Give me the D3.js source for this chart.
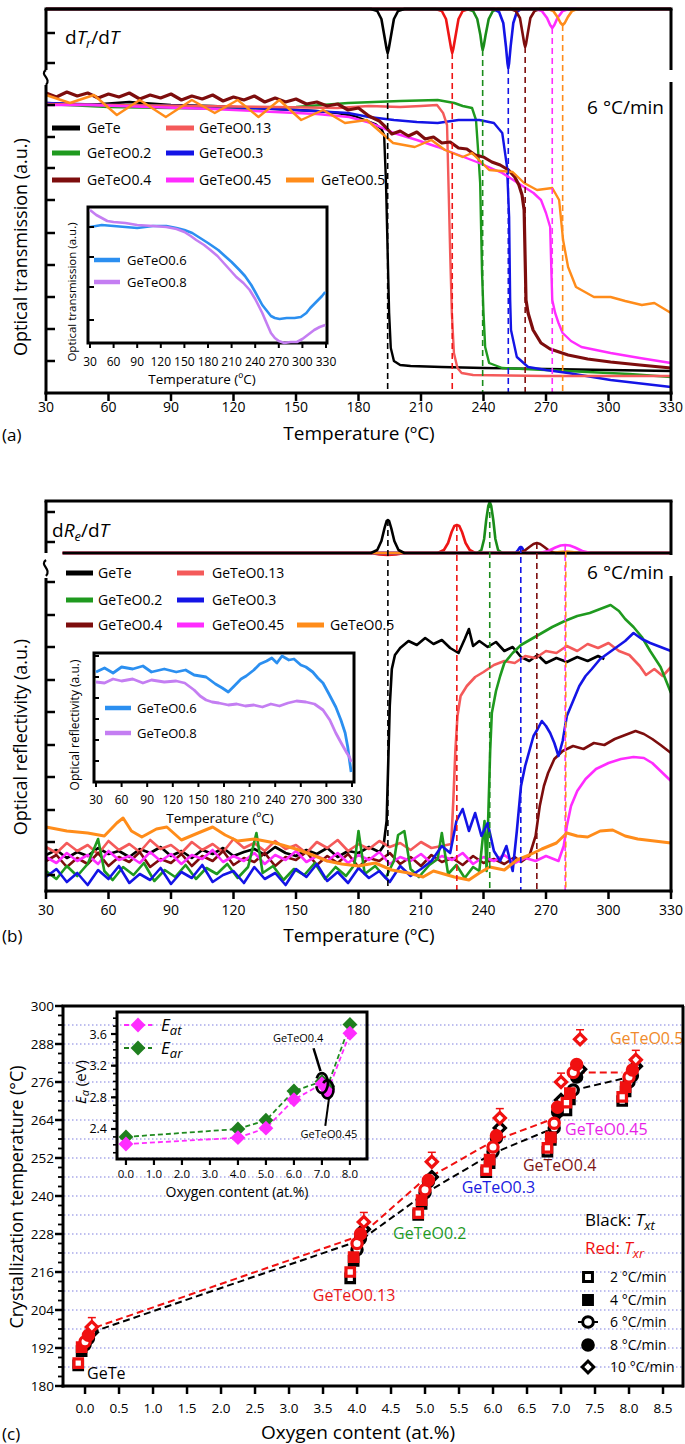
<!DOCTYPE html>
<html><head><meta charset="utf-8">
<script src="https://cdn.jsdelivr.net/npm/d3@7/dist/d3.min.js"></script>
<style>
body{margin:0;background:#fff;}
svg text{font-family:"Open Sans","Liberation Sans",Arial,sans-serif;fill:#000;}
</style></head><body>
<svg id="fig" width="685" height="1444" xmlns="http://www.w3.org/2000/svg"></svg>
<script>
// ================= DATA =================
const samples = ["GeTe","GeTeO0.13","GeTeO0.2","GeTeO0.3","GeTeO0.4","GeTeO0.45","GeTeO0.5"];
const insetSamples = ["GeTeO0.6","GeTeO0.8"];
const tempTicks = [30,60,90,120,150,180,210,240,270,300,330];

// ---- Panel (a): optical transmission (a.u.) vs T, 6 °C/min ----
const transGeTe = [[30,290],[50,288],[70,291],[90,288],[110,287],[130,285],[150,283],[160,282],[170,280],[178,277],[183,273],[188,269],[191,264],[192.3,258],[193.2,210],[194,140],[194.7,80],[195.5,45],[197,32],[200,28],[205,27],[220,26],[240,25],[270,24],[300,23],[330,22]];
const transO013 = [[30,289],[60,288],[100,287],[140,286],[170,285],[185,287],[200,286],[210,287],[217.7,288],[220.6,280],[222.5,268],[223.3,200],[224,140],[224.8,80],[225.8,40],[227.5,25],[229.5,20],[235,18],[270,17],[330,17]];
const transO02 = [[30,289],[60,286],[90,285],[120,284],[150,286],[175,290],[200,292],[218,293],[226,290],[230,287],[234.5,285],[236.4,273],[237.4,243],[238.4,210],[239.3,120],[240,80],[240.8,46],[242.7,30],[249,25],[270,23],[290,21],[310,19],[330,16]];
const transO03 = [[30,290],[60,288],[100,287],[130,285],[150,283],[175,280],[185,276],[197,273],[208,271],[218,270],[228,273],[238,273],[245,270],[249,260],[251.3,226],[252.3,176],[252.8,93],[253.2,63],[256,36],[261.4,26],[270,23],[280.6,20],[301,13],[330,6]];
const transO04 = [[30,300],[35,296],[40,301],[45,297],[50,300],[55,295],[60,299],[65,296],[70,300],[75,294],[80,298],[85,295],[90,299],[95,293],[100,297],[105,294],[110,298],[115,292],[120,296],[125,293],[130,297],[135,291],[140,295],[145,291],[150,294],[155,289],[160,291],[165,287],[170,289],[175,283],[180,285],[185,277],[190,272],[193,266],[196,259],[200,262],[204,257],[208,261],[212,254],[216,256],[220,250],[224,251],[228,245],[232,244],[236,238],[240,236],[244,231],[248,228],[252,223],[255,216],[257,208],[258.5,198],[259.5,183],[260.4,93],[261.4,80],[263.8,63],[267.6,50],[272,44],[280.6,38],[290,34],[301,31],[315,28],[330,25]];
const transO045 = [[30,288],[50,288],[80,286],[110,284],[140,281],[160,279],[175.5,276],[186,270],[197,260],[208,253],[218,246],[228,238],[238,230],[249,220],[259.5,206],[264,200],[267.6,193],[270,180],[272,166],[272.6,120],[273,93],[274.4,80],[276,70],[278,60],[282,52],[287,46],[294,43],[301,40],[315,35],[330,30]];
const transO05 = [[30,298],[41.5,290],[53,298],[64,278],[75,293],[87.5,276],[100,293],[111,280],[122,293],[132,276],[142,293],[152.5,273],[163,283],[173.5,270],[184,273],[190,262],[196.6,250],[207,246],[215,253],[221.5,243],[230,236],[234.5,240],[242.7,223],[254,221],[259.5,210],[265.7,203],[273,205],[276.3,193],[278.2,153],[280.6,126],[284.4,106],[293,96],[301,96],[308,92],[316,88],[322,90],[330,80]];
const transSeries = [transGeTe,transO013,transO02,transO03,transO04,transO045,transO05];

// dT_r/dT dips (depth, a.u.)
const dTrGeTe = [[30,0],[186,0],[189,2],[191,10],[192.5,28],[193.5,40],[194,44],[194.5,40],[195.5,28],[197,10],[199,2],[202,0],[330,0]];
const dTrO013 = [[30,0],[217,0],[220,2],[222,10],[223.5,28],[224.5,40],[225,44],[225.5,40],[226.5,28],[228,10],[230,2],[233,0],[330,0]];
const dTrO02 = [[30,0],[232,0],[235,2],[237,10],[238.5,26],[239.2,37],[239.6,41],[240.1,37],[241,26],[242.5,10],[244.5,2],[247,0],[330,0]];
const dTrO03 = [[30,0],[245,0],[247.5,3],[249.5,14],[250.8,38],[251.5,54],[251.9,59],[252.3,54],[253,38],[254.3,14],[256,3],[258,0],[330,0]];
const dTrO04 = [[30,0],[253,0],[255.5,2],[257.5,9],[258.8,25],[259.6,35],[260,38],[260.4,35],[261.2,25],[262.5,9],[264.5,2],[267,0],[330,0]];
const dTrO045 = [[30,0],[265,0],[268,2],[270.5,9],[272,16],[273,19],[274,16],[275.5,9],[278,2],[281,0],[330,0]];
const dTrO05 = [[30,0],[271,0],[273.5,2],[275.5,8],[277,14],[278,16],[279,14],[280.5,8],[282.5,2],[285,0],[330,0]];
const dTrSeries = [dTrGeTe,dTrO013,dTrO02,dTrO03,dTrO04,dTrO045,dTrO05];

// inset (a)
const transInO06 = [[30,116],[45,118],[60,117],[75,116],[90,115],[110,117],[127,117],[140,115],[150,113],[160,110],[170,105],[180,100],[193,93],[200,88],[210,81],[220,73],[227,67],[235,58],[240,51],[249,38],[255,32],[260,27],[265,25],[271,24],[280,25],[290,25],[298,26],[305,30],[310,35],[315,39],[320,43],[325,47],[329,51]];
const transInO08 = [[30,133],[38,128],[45,125],[52,122],[60,121],[75,120],[90,118],[110,117],[127,116],[140,114],[150,111],[158,107],[165,103],[175,98],[183,93],[192,87],[200,80],[208,73],[216,66],[225,60],[233,53],[240,44],[249,30],[255,19],[260,10],[265,5],[270,2],[277,0],[285,1],[293,1],[300,4],[305,7],[310,10],[315,13],[322,16],[329,18]];

// ---- Panel (b): optical reflectivity (a.u.) vs T, 6 °C/min ----
const reflGeTe = [[30,36],[35,41],[40,33],[45,39],[50,35],[55,43],[60,37],[65,40],[70,34],[75,42],[80,38],[85,44],[90,35],[95,40],[100,33],[105,41],[110,37],[115,43],[120,35],[125,39],[130,42],[135,36],[140,44],[145,38],[150,35],[155,41],[160,37],[165,43],[170,34],[175,40],[180,38],[185,44],[190,39],[192,45],[193.5,70],[194.3,130],[195,185],[196,222],[197.5,236],[200,243],[204,250],[208,246],[212,253],[216,247],[220,251],[224,243],[228,238],[231,252],[233,262],[235,245],[238,250],[242,244],[246,249],[250,240],[254,244],[258,234],[262,230],[266,236],[270,228],[275,233],[280,229],[285,234],[290,230],[295,235],[298,232]];
const reflO013 = [[30,44],[35,38],[40,48],[45,40],[50,46],[55,37],[60,50],[65,41],[70,47],[75,39],[80,51],[85,42],[90,46],[95,38],[100,49],[105,41],[110,47],[115,39],[120,52],[125,43],[130,48],[135,40],[140,50],[145,42],[150,46],[155,38],[160,49],[165,43],[170,51],[175,40],[180,47],[185,42],[190,50],[195,44],[200,48],[205,41],[210,49],[215,43],[220,45],[224.5,47],[225.5,90],[226.5,140],[227.5,175],[229,195],[232,205],[236,214],[240,219],[245,226],[250,230],[255,228],[260,235],[265,233],[270,240],[275,238],[280,245],[285,240],[290,247],[295,243],[300,248],[305,240],[310,236],[315,225],[318,216],[322,222],[326,215],[330,224]];
const reflO02 = [[30,20],[35,12],[40,25],[45,15],[50,27],[55,52],[58,20],[62,11],[67,24],[72,16],[77,28],[82,10],[87,21],[92,14],[97,26],[102,12],[107,23],[112,17],[117,27],[122,13],[127,24],[131,58],[134,18],[139,25],[144,11],[149,22],[154,16],[159,28],[164,12],[169,24],[174,15],[178,26],[180,60],[183,17],[188,25],[193,13],[197,30],[199,56],[202,60],[205,22],[209,14],[214,26],[218,32],[220,58],[223,17],[227,26],[231,13],[235,24],[238,20],[240.5,70],[241.5,20],[242.5,90],[243.2,140],[244,178],[246,200],[248,215],[250,228],[254,238],[258,246],[263,252],[268,258],[273,264],[279,270],[285,275],[291,278],[296,282],[301,286],[305,280],[308,272],[312,264],[316,254],[320,240],[325,224],[330,198]];
const reflO03 = [[30,14],[35,22],[40,9],[45,18],[50,6],[55,21],[60,12],[65,25],[70,8],[75,17],[80,11],[85,23],[90,7],[95,19],[100,13],[105,26],[110,9],[115,16],[120,20],[125,8],[130,24],[135,12],[140,18],[145,6],[150,22],[155,14],[160,27],[165,10],[170,19],[175,8],[180,23],[185,13],[190,20],[195,9],[200,25],[205,15],[210,22],[215,30],[220,45],[224,38],[227,70],[230,82],[233,60],[236,78],[239,55],[242,68],[245,40],[248,30],[251,45],[254,20],[256,60],[258,105],[260,125],[262,140],[264,155],[266,162],[268,170],[270,165],[272,158],[274,148],[276,135],[278,150],[280,175],[283,190],[286,205],[289,215],[292,222],[296,232],[300,238],[304,244],[308,250],[312,258],[316,252],[320,248],[325,244],[330,240]];
const reflO04 = [[30,30],[35,36],[40,24],[45,33],[50,27],[55,38],[60,25],[65,34],[70,29],[75,39],[80,24],[85,32],[90,28],[95,37],[100,25],[105,35],[110,30],[115,40],[120,26],[125,33],[130,29],[135,38],[140,25],[145,34],[150,31],[155,39],[160,26],[165,35],[170,28],[175,37],[180,24],[185,33],[190,30],[195,38],[200,27],[205,34],[210,25],[215,36],[220,29],[225,33],[230,26],[235,35],[240,28],[245,32],[250,27],[255,34],[258,29],[262,35],[265,55],[267,85],[269,105],[271,118],[274,132],[278,140],[283,145],[288,142],[293,148],[298,146],[303,152],[308,156],[313,160],[317,157],[321,152],[325,146],[330,138]];
const reflO045 = [[30,34],[35,28],[40,38],[45,30],[50,36],[55,27],[60,40],[65,31],[70,35],[75,28],[80,39],[85,30],[90,37],[95,27],[100,36],[105,32],[110,41],[115,29],[120,35],[125,30],[130,38],[135,27],[140,36],[145,31],[150,40],[155,29],[160,35],[165,30],[170,38],[175,28],[180,36],[185,31],[190,39],[195,27],[200,34],[205,30],[210,37],[215,28],[220,35],[225,31],[230,38],[235,27],[240,34],[245,30],[250,36],[255,28],[260,33],[265,30],[270,35],[276,30],[278.5,45],[280,65],[282,85],[285,100],[289,112],[294,122],[300,128],[306,132],[312,134],[317,133],[321,128],[325,120],[330,110]];
const reflO05 = [[30,64],[40,60],[50,58],[58,55],[64,68],[67,73],[71,60],[76,54],[83,62],[88,64],[95,51],[103,58],[110,64],[116,56],[122,50],[130,52],[140,48],[150,42],[158,36],[165,30],[172,27],[180,25],[188,28],[196,21],[204,18],[211,14],[216,20],[221,17],[226,14],[233,11],[238,18],[243,24],[250,21],[256,31],[262,36],[268,42],[275,48],[280,58],[285,55],[290,54],[296,60],[302,61],[308,55],[314,52],[322,50],[330,48]];
const reflSeries = [reflGeTe,reflO013,reflO02,reflO03,reflO04,reflO045,reflO05];

// dR_e/dT peaks (height, a.u.)
const dReGeTe = [[38,0],[186,0],[189,3],[191,12],[192.5,25],[193.5,32],[194.1,33],[194.7,32],[195.7,25],[197.2,12],[199.2,3],[202,0],[330,0]];
const dReO013 = [[38,0],[186,0],[190,-1.5],[194,-2],[198,-1.5],[202,0],[218,0],[221,3],[223,10],[224.7,21],[226,27],[227.2,28],[228.4,27],[229.7,21],[231.4,10],[233.4,3],[236,0],[330,0]];
const dReO02 = [[38,0],[237,0],[239,3],[240.3,14],[241.3,33],[242.3,47],[243,51],[243.7,47],[244.7,33],[245.7,14],[247,3],[249,0],[330,0]];
const dReO03 = [[38,0],[255.3,0],[256.6,3],[257.4,5.5],[257.9,6],[258.4,5.5],[259.1,3],[260.4,0],[330,0]];
const dReO04 = [[38,0],[256.5,0],[259.5,2],[262,6],[264,9],[265.6,10],[267.2,9],[269.2,6],[271.7,2],[274.7,0],[330,0]];
const dReO045 = [[38,0],[267,0],[271,2],[274.5,5.5],[277,7.5],[279.2,8],[281.4,7.5],[283.9,5.5],[287.4,2],[291.4,0],[330,0]];
const dReO05 = [[38,0],[273,0],[276.5,1],[279.5,1.5],[282.5,1],[286,0],[330,0]];
const dReSeries = [dReGeTe,dReO013,dReO02,dReO03,dReO04,dReO045,dReO05];

// inset (b)
const reflInO06 = [[30,110],[40,114],[50,109],[60,115],[73,113],[85,116],[95,110],[110,113],[124,110],[135,112],[145,107],[159,105],[170,98],[178,94],[185,90],[192,96],[200,103],[206,106],[215,112],[222,118],[230,121],[236,124],[242,119],[248,126],[256,122],[262,123],[270,117],[276,115],[284,110],[290,104],[296,99],[303,88],[311,75],[317,62],[322,49],[325,35],[327,22],[329,10]];
const reflInO08 = [[30,100],[40,99],[50,103],[60,101],[73,103],[85,99],[95,102],[110,100],[124,101],[134,99],[145,92],[152,86],[159,82],[166,80],[174,79],[185,77],[195,78],[205,76],[215,77],[225,75],[235,78],[245,76],[255,79],[265,81],[276,80],[286,78],[296,72],[304,62],[311,49],[318,38],[324,29],[327,25],[329,20]];

// ---- Panel (c): crystallization temperature vs oxygen content ----
const rates = [2,4,6,8,10];
const rateLabels = ["2 °C/min","4 °C/min","6 °C/min","8 °C/min","10 °C/min"];
const oxygenContent = [0,4.0,5.0,6.0,6.9,7.18,8.0];
const rateOffsets = [-0.1,-0.05,0,0.05,0.1];
const txtValues = [
  [186.5,191,193,195,197],
  [214,219.5,223,226.5,229.5],
  [234,237.5,241,244.5,246],
  [247.5,250.4,254,258.3,261.5],
  [254,257.7,261.5,266.5,270.3],
  [267,270.5,273.5,277.6,280],
  [270,273,276,278,281]
];
const txrValues = [
  [187.2,192.3,194,196,198.6],
  [216,220.7,225,228,231.8],
  [234.6,238.7,242,245,250.8],
  [248.2,251.5,255.5,259,264.6],
  [255.2,258.5,263,268,276],
  [269.5,272.5,279,281.5,289.5],
  [271.3,274.4,277.6,279.8,283]
];
const txrErr10 = [3,3,3,3,2.8,3,3];
const txtLine = [[0.1,197],[4.05,226],[5.05,241.5],[6.0,253.5],[6.9,261.5],[7.2,273.5],[8.0,277.5]];
const txrLine = [[0.15,198.5],[4.05,227.5],[4.95,244.5],[6.0,257.3],[6.9,264.5],[7.25,279],[7.9,279]];
const compLabelAnchor = [[0.03,184],[3.35,208.7],[4.53,228.3],[5.54,242.8],[6.44,249.8],[7.06,261.2],[7.72,289.9]];
const tempYTicks = [180,192,204,216,228,240,252,264,276,288,300];
const oxyXTicks = [0,0.5,1,1.5,2,2.5,3,3.5,4,4.5,5,5.5,6,6.5,7,7.5,8,8.5];

// inset (c): activation energies
const eaOxygen = [0,4,5,6,7,7.2,8];
const eatValues = [2.21,2.29,2.41,2.77,2.97,2.87,3.61];
const earValues = [2.30,2.40,2.51,2.88,3.00,2.94,3.72];
const eatErr = [0.05,0.03,0.05,0.04,0.04,0.04,0.03];
const eaYTicks = [2.4,2.8,3.2,3.6];
const eaXTicks = [0,1,2,3,4,5,6,7,8];

// ================= STYLE =================
const lineColors = ["#000000","#f45a5a","#1f9a1f","#1414e6","#7d0d0d","#ff2cff","#ff8c1a"];
const dipColors  = ["#000000","#ee1515","#1a8c1a","#1414e6","#7d0d0d","#ff2cff","#ff8c1a"];
const insetColors = ["#2b8ff0","#c47ef2"];
const labelColors = ["#000000","#e81818","#1f9a1f","#1a1ae0","#7d1515","#e81ee8","#f08a2a"];

// ================= HELPERS =================
const svg = d3.select("#fig");
function path(g, xs, ys, data, color, w, dash){
  return g.append("path").datum(data)
    .attr("d", d3.line().x(d=>xs(d[0])).y(d=>ys(d[1])))
    .attr("fill","none").attr("stroke",color).attr("stroke-width",w)
    .attr("stroke-linejoin","round").attr("stroke-dasharray",dash||null);
}
function ln(g,x1,y1,x2,y2,w,c,dash){
  return g.append("line").attr("x1",x1).attr("y1",y1).attr("x2",x2).attr("y2",y2)
    .attr("stroke",c||"#000").attr("stroke-width",w).attr("stroke-dasharray",dash||null);
}
function tx(g,x,y,s,size,anchor,color){
  return g.append("text").attr("x",x).attr("y",y).attr("font-size",size)
    .attr("text-anchor",anchor||"start").style("fill",color||"#000").text(s);
}
function breakMark(g,x,y1,y2){
  const m=(y1+y2)/2;
  g.append("path").attr("d",`M${x},${y1} C${x-7},${m-3} ${x+6},${m+1} ${x},${y2}`)
    .attr("fill","none").attr("stroke","#000").attr("stroke-width",2.2);
}
const legendRows = [[0,1],[2,3],[4,5,6]];

// ================= PANEL (a) =================
{
  const g = svg.append("g");
  const x = d3.scaleLinear().domain([30,330]).range([46,671]);
  const y = d3.scaleLinear().domain([0,308]).range([393,85]);
  const d = d3.scaleLinear().domain([0,60]).range([9,69]);
  [0,2,3,1,5,4,6].forEach(i=>path(g,x,y,transSeries[i],lineColors[i], i===4?3.2:2.4));
  [1,2,3,4,5,6,0].forEach(i=>path(g,x,d,dTrSeries[i],dipColors[i],2.6));
  dTrSeries.forEach((s,i)=>{
    const m = d3.greatest(s,p=>p[1]);
    ln(g,x(m[0]),d(m[1]),x(m[0]),y(0),1.6,dipColors[i],"6,4");
  });
  ln(g,44.5,9,672.5,9,3);
  ln(g,46,9,46,70,3); breakMark(g,46,70,85); ln(g,46,85,46,394.5,3);
  ln(g,671,9,671,70,3); ln(g,671,82,671,394.5,3);
  ln(g,44.5,393,672.5,393,3);
  [24,54].forEach(v=>ln(g,46,d(v),55,d(v),2.5));
  [32,64,96,128,160,193,225,256,288].forEach(v=>ln(g,46,y(v),55,y(v),2.5));
  tempTicks.forEach(t=>{ ln(g,x(t),393,x(t),401,2.5); tx(g,x(t),412,t,14,"middle"); });
  tx(g,359,440,"Temperature (ºC)",19,"middle");
  tx(g,2,441,"(a)",17);
  tx(g,27,247,"Optical transmission (a.u.)",18,"middle").attr("transform","rotate(-90,27,247)");
  const lab = g.append("text").attr("x",65).attr("y",44).attr("font-size",19);
  lab.append("tspan").text("d");
  lab.append("tspan").attr("font-style","italic").text("T");
  lab.append("tspan").attr("font-style","italic").attr("font-size",13).attr("dy",4).text("r");
  lab.append("tspan").attr("dy",-4).text("/d");
  lab.append("tspan").attr("font-style","italic").text("T");
  tx(g,664,114,"6 °C/min",19,"end");
  const rowY=[128,153,180], colL=[52,166,286], colT=[87,199,321];
  legendRows.forEach((row,r)=>row.forEach((si,c)=>{
    ln(g,colL[c],rowY[r],colL[c]+28,rowY[r],5,lineColors[si]);
    tx(g,colT[c],rowY[r]+5,samples[si],14);
  }));
  const xi = d3.scaleLinear().domain([30,330]).range([90,326]);
  const yi = d3.scaleLinear().domain([0,136]).range([343,207]);
  g.append("rect").attr("x",88).attr("y",207).attr("width",239).attr("height",136)
    .attr("fill","#fff").attr("stroke","#000").attr("stroke-width",3);
  path(g,xi,yi,transInO06,insetColors[0],2.6);
  path(g,xi,yi,transInO08,insetColors[1],2.6);
  [23,56,86,116].forEach(v=>ln(g,88,yi(v),94,yi(v),2));
  tempTicks.forEach(t=>{ ln(g,xi(t),343,xi(t),348,2); tx(g,xi(t),366,t,12,"middle"); });
  tx(g,202,384,"Temperature (ºC)",13.5,"middle");
  tx(g,76,292,"Optical transmission (a.u.)",11.5,"middle").attr("transform","rotate(-90,76,292)");
  [[260,0],[282,1]].forEach(([yy,k])=>{ ln(g,94,yy,120,yy,4.5,insetColors[k]); tx(g,127,yy+5,insetSamples[k],13); });
}

// ================= PANEL (b) =================
{
  const g = svg.append("g");
  const x = d3.scaleLinear().domain([30,330]).range([46,671]);
  const y = d3.scaleLinear().domain([0,309]).range([891,582]);
  const d = d3.scaleLinear().domain([0,52]).range([553,501]);
  [0,1,4,5,2,3,6].forEach(i=>path(g,x,y,reflSeries[i],lineColors[i], i===6?3:2.6));
  [1,2,3,4,5,6,0].forEach(i=>path(g,x,d,dReSeries[i],dipColors[i],2.6));
  dReSeries.forEach((s,i)=>{
    const m = d3.greatest(s,p=>p[1]);
    ln(g,x(m[0]),d(m[1]),x(m[0]),y(0),1.6,dipColors[i],"6,4");
  });
  ln(g,44.5,501,672.5,501,3);
  ln(g,46,501,46,553,3); breakMark(g,46,560,576); ln(g,46,578,46,892.5,3);
  ln(g,671,501,671,555,3); ln(g,671,576,671,892.5,3);
  ln(g,44.5,891,672.5,891,3);
  [41,11].forEach(v=>ln(g,46,d(v),55,d(v),2.5));
  [16,49,81,114,146,179,211,244,276,309].forEach(v=>ln(g,46,y(v),55,y(v),2.5));
  tempTicks.forEach(t=>{ ln(g,x(t),891,x(t),899,2.5); tx(g,x(t),915,t,14,"middle"); });
  tx(g,359,942,"Temperature (ºC)",19,"middle");
  tx(g,2,942,"(b)",17);
  tx(g,27,737,"Optical reflectivity (a.u.)",18,"middle").attr("transform","rotate(-90,27,737)");
  const lab = g.append("text").attr("x",52).attr("y",537).attr("font-size",19);
  lab.append("tspan").text("d");
  lab.append("tspan").attr("font-style","italic").text("R");
  lab.append("tspan").attr("font-style","italic").attr("font-size",13).attr("dy",4).text("e");
  lab.append("tspan").attr("dy",-4).text("/d");
  lab.append("tspan").attr("font-style","italic").text("T");
  tx(g,664,579,"6 °C/min",19,"end");
  const rowY=[573,600,625], colL=[66,177,297], colT=[98,212,330];
  legendRows.forEach((row,r)=>row.forEach((si,c)=>{
    ln(g,colL[c],rowY[r],colL[c]+27,rowY[r],5,lineColors[si]);
    tx(g,colT[c],rowY[r]+5,samples[si],14);
  }));
  const xi = d3.scaleLinear().domain([30,330]).range([96,352]);
  const yi = d3.scaleLinear().domain([0,129]).range([782,653]);
  g.append("rect").attr("x",94).attr("y",653).attr("width",260).attr("height",129)
    .attr("fill","#fff").attr("stroke","#000").attr("stroke-width",3);
  path(g,xi,yi,reflInO06,insetColors[0],2.8);
  path(g,xi,yi,reflInO08,insetColors[1],2.8);
  [21,42,63,84,105,126].forEach(v=>ln(g,94,yi(v),99,yi(v),2));
  tempTicks.forEach(t=>{ ln(g,xi(t),782,xi(t),787,2); tx(g,xi(t),804,t,12,"middle"); });
  tx(g,220,823,"Temperature (ºC)",13.5,"middle");
  tx(g,79,725,"Optical reflectivity (a.u.)",12,"middle").attr("transform","rotate(-90,79,725)");
  [[708,0],[733,1]].forEach(([yy,k])=>{ ln(g,105,yy,131,yy,4.5,insetColors[k]); tx(g,137,yy+5,insetSamples[k],13); });
}

// ================= PANEL (c) =================
{
  const g = svg.append("g");
  const x = d3.scaleLinear().domain([-0.324,8.794]).range([63,683]);
  const y = d3.scaleLinear().domain([180,300]).range([1386,1006]);
  d3.range(186,300,6).forEach(v=>ln(g,64,y(v),682,y(v),1.1,"#7f7fe0","1.5,2.5"));
  // inset (c)
  const xi = d3.scaleLinear().domain([-0.32,8.61]).range([117,367]);
  const yi = d3.scaleLinear().domain([2.021,3.878]).range([1159,1012]);
  g.append("rect").attr("x",117).attr("y",1012).attr("width",250).attr("height",147)
    .attr("fill","none").attr("stroke","#000").attr("stroke-width",3);
  d3.range(2.1,3.85,0.1).forEach(v=>ln(g,113,yi(v),117,yi(v),1.6));
  eaYTicks.forEach(v=>{ ln(g,111,yi(v),117,yi(v),2.2); tx(g,107,yi(v)+4.5,v.toFixed(1),12.5,"end"); });
  eaXTicks.forEach(v=>{ ln(g,xi(v),1159,xi(v),1165,2.2); tx(g,xi(v),1178,v.toFixed(1),11.5,"middle"); });
  tx(g,237,1197,"Oxygen content (at.%)",14,"middle");
  const el = g.append("text").attr("x",86).attr("y",1082).attr("font-size",15).attr("text-anchor","middle")
    .attr("transform","rotate(-90,86,1082)");
  el.append("tspan").attr("font-style","italic").text("E");
  el.append("tspan").attr("font-style","italic").attr("font-size",11).attr("dy",3).text("a");
  el.append("tspan").attr("dy",-3).text(" (eV)");
  const diamond = d3.symbol().type(d3.symbolSquare).size(110);
  const eaPts = (vals)=>eaOxygen.map((o,i)=>[o,vals[i]]);
  path(g,xi,yi,eaPts(earValues),"#1f8a1f",1.8,"5,3");
  path(g,xi,yi,eaPts(eatValues),"#ff2cff",1.8,"5,3");
  eaOxygen.forEach((o,i)=>{
    ln(g,xi(o),yi(eatValues[i]-eatErr[i]),xi(o),yi(eatValues[i]+eatErr[i]),1.4,"#ff2cff");
  });
  eaOxygen.forEach((o,i)=>g.append("path").attr("d",diamond).attr("fill","#1f7f1f")
    .attr("transform",`translate(${xi(o)},${yi(earValues[i])}) rotate(45)`));
  eaOxygen.forEach((o,i)=>g.append("path").attr("d",diamond).attr("fill","#ff2cff")
    .attr("transform",`translate(${xi(o)},${yi(eatValues[i])}) rotate(45)`));
  g.append("ellipse").attr("cx",xi(7)).attr("cy",yi(2.98)).attr("rx",6).attr("ry",10)
    .attr("fill","none").attr("stroke","#000").attr("stroke-width",2.6).attr("stroke-dasharray","22,8");
  g.append("ellipse").attr("cx",xi(7.2)).attr("cy",yi(2.9)).attr("rx",6).attr("ry",9)
    .attr("fill","none").attr("stroke","#000").attr("stroke-width",2.6).attr("stroke-dasharray","20,10");
  g.append("path").attr("d",`M${xi(6.7)},${yi(3.42)} L${xi(6.95)},${yi(3.13)}`).attr("stroke","#000").attr("stroke-width",2.5);
  g.append("path").attr("d",`M${xi(7.25)},${yi(2.78)} L${xi(7.12)},${yi(2.44)}`).attr("stroke","#000").attr("stroke-width",2);
  tx(g,xi(6.15),yi(3.55)+4,"GeTeO0.4",11,"middle");
  tx(g,xi(7.25),yi(2.34)+4,"GeTeO0.45",11,"middle");
  [[1025,"#ff2cff","at"],[1048,"#1f7f1f","ar"]].forEach(([yy,c,sub])=>{
    ln(g,124,yy,152,yy,1.8,c,"5,3");
    g.append("path").attr("d",diamond).attr("fill",c).attr("transform",`translate(138,${yy}) rotate(45)`);
    const t = g.append("text").attr("x",161).attr("y",yy+6).attr("font-size",17);
    t.append("tspan").attr("font-style","italic").text("E");
    t.append("tspan").attr("font-style","italic").attr("font-size",13).attr("dy",4).text(sub);
  });

  path(g,x,y,txtLine,"#000",2,"7,4");
  path(g,x,y,txrLine,"#f01010",2,"7,4");
  const shapes = [d3.symbolSquare,d3.symbolSquare,d3.symbolCircle,d3.symbolCircle,d3.symbolSquare];
  const filled = [false,true,false,true,false];
  const rot = [0,0,0,0,45];
  const sizes = [72,72,82,82,62];
  function marker(gg,cx,cy,k,color,scale,sw){
    gg.append("path").attr("d",d3.symbol().type(shapes[k]).size(sizes[k]*(scale||1)))
      .attr("fill",filled[k]?color:"#fff").attr("stroke",color).attr("stroke-width",sw||3.2)
      .attr("transform",`translate(${cx},${cy}) rotate(${rot[k]})`);
  }
  oxygenContent.forEach((o,i)=>rates.forEach((r,k)=>marker(g,x(o+rateOffsets[k]),y(txtValues[i][k]),k,"#000")));
  oxygenContent.forEach((o,i)=>{
    const xe = x(o+rateOffsets[4]);
    ln(g,xe,y(txrValues[i][4]),xe,y(txrValues[i][4]+txrErr10[i]),1.5,"#f01010");
    ln(g,xe-4,y(txrValues[i][4]+txrErr10[i]),xe+4,y(txrValues[i][4]+txrErr10[i]),1.5,"#f01010");
  });
  oxygenContent.forEach((o,i)=>rates.forEach((r,k)=>marker(g,x(o+rateOffsets[k]),y(txrValues[i][k]),k,"#f01010")));
  samples.forEach((s,i)=>tx(g,x(compLabelAnchor[i][0]),y(compLabelAnchor[i][1])+6,s,16,"start",labelColors[i]));
  ln(g,61.5,1006,684,1006,3);
  ln(g,683,1006,683,1387.5,3);
  ln(g,63,1006,63,1387.5,3);
  ln(g,61.5,1386,684,1386,3);
  d3.range(183,300,3).filter(v=>(v-180)%12!==0).forEach(v=>ln(g,58,y(v),63,y(v),1.8));
  tempYTicks.forEach(v=>{ ln(g,55,y(v),63,y(v),2.5); tx(g,54,y(v)+5,v,13.5,"end"); });
  oxyXTicks.forEach(v=>{ ln(g,x(v),1386,x(v),1394,2.5); tx(g,x(v),1413,v.toFixed(1),13.5,"middle"); });
  tx(g,358,1439,"Oxygen content (at.%)",19,"middle");
  tx(g,2,1440,"(c)",17);
  tx(g,23,1197,"Crystallization temperature (°C)",18,"middle").attr("transform","rotate(-90,23,1197)");
  const b1 = g.append("text").attr("x",585).attr("y",1226).attr("font-size",17);
  b1.append("tspan").text("Black: ");
  b1.append("tspan").attr("font-style","italic").text("T");
  b1.append("tspan").attr("font-style","italic").attr("font-size",13).attr("dy",4).text("xt");
  const b2 = g.append("text").attr("x",585).attr("y",1254).attr("font-size",17).style("fill","#f01010");
  b2.append("tspan").style("fill","#f01010").text("Red: ");
  b2.append("tspan").style("fill","#f01010").attr("font-style","italic").text("T");
  b2.append("tspan").style("fill","#f01010").attr("font-style","italic").attr("font-size",13).attr("dy",4).text("xr");
  const ly = [1277,1300,1322,1345,1367];
  rates.forEach((r,k)=>{
    if(k===2) ln(g,578,ly[k],598,ly[k],2,"#000");
    marker(g,588,ly[k],k,"#000",1.1,3);
    tx(g,610,ly[k]+5,rateLabels[k],14);
  });
}
</script></body></html>
